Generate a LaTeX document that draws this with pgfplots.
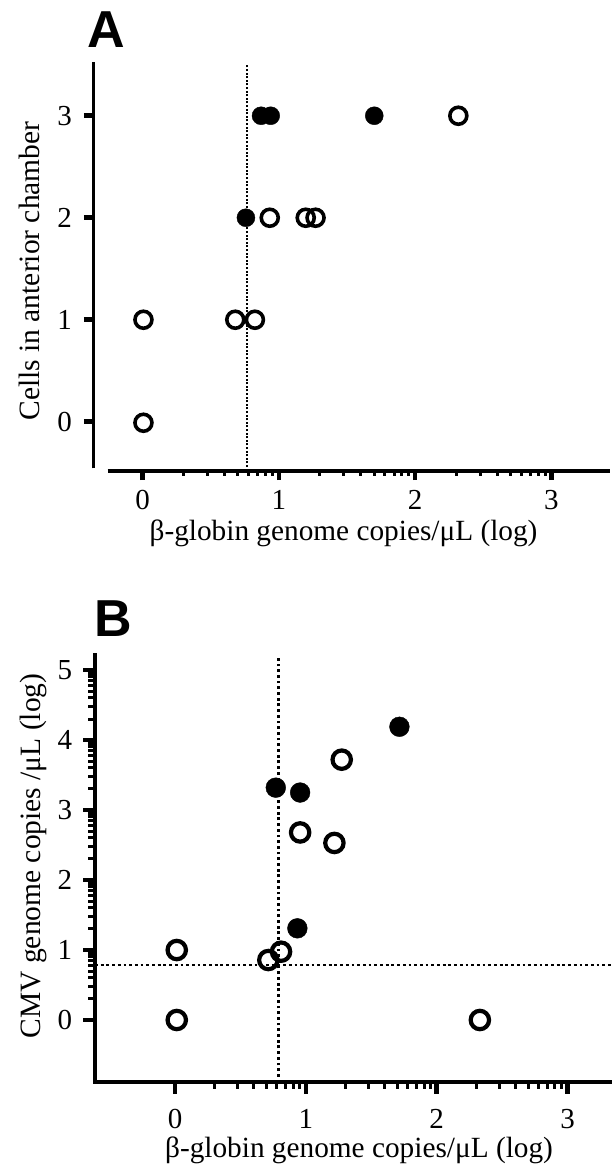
\documentclass[border=0pt]{standalone}
\usepackage{fontspec}
\setmainfont{Liberation Serif}
\newfontfamily\hv{Liberation Sans}
\usepackage{pgfplots}
\pgfplotsset{compat=1.18}
\pgfplotsset{
  prism/.style={
    scale only axis, clip=false,
    axis line style={draw=none},
    tick pos=left, tick align=outside,
    /pgf/number format/assume math mode=true,
    tick label style={font=\fontsize{29}{29}\selectfont, inner sep=0pt},
    xticklabel style={anchor=base},
    yticklabel style={anchor=east},
    major tick style={black},
    minor tick style={black},
  },
  openmk/.style={only marks, mark=o, mark size=8.5pt, mark options={line width=3.6pt, black}},
  fullmk/.style={only marks, mark=*, mark size=9pt, mark options={draw=none, fill=black}},
}
\begin{document}
\begin{tikzpicture}
% ---------------- Panel A ----------------
\begin{axis}[prism,
  at={(93.3pt,694.3pt)}, anchor=south west,
  width=516.7pt, height=409pt,
  xmin=-0.362, xmax=3.43, ymin=-0.48, ymax=3.53,
  xtick={0,1,2,3}, ytick={0,1,2,3},
  minor xtick={0.30103,0.47712,0.60206,0.69897,0.77815,0.84510,0.90309,0.95424,
               1.30103,1.47712,1.60206,1.69897,1.77815,1.84510,1.90309,1.95424,
               2.30103,2.47712,2.60206,2.69897,2.77815,2.84510,2.90309,2.95424},
  major tick length=9.5pt, minor tick length=5pt,
  every major tick/.append style={line width=4.5pt},
  every minor tick/.append style={line width=3pt},
  xticklabel style={yshift=-29.8pt},
  yticklabel style={xshift=-11.8pt},
]
\draw[line width=2.6pt, dash pattern=on 2pt off 1.6pt] (axis cs:0.767,-0.48) -- (axis cs:0.767,3.50);
\draw[line width=4pt] (axis cs:-0.257,-0.48) -- (axis cs:3.43,-0.48);
\draw[line width=3.4pt] (axis cs:-0.362,-0.457) -- (axis cs:-0.362,3.53);
\addplot[fullmk] coordinates {(0.869,3) (0.94,3) (1.70,3) (0.758,2)};
\addplot[openmk] coordinates {(2.317,3) (0.933,2) (1.197,2) (1.269,2) (0.006,1) (0.68,1) (0.824,1) (0.006,-0.01)};
\end{axis}
\node[anchor=base, inner sep=0pt, font=\fontsize{29.3}{29.3}\selectfont] at (343.5pt,624pt) {β-globin genome copies/μL (log)};
\node[rotate=90, anchor=base, inner sep=0pt, font=\fontsize{29.5}{29.5}\selectfont] at (39.3pt,894pt) {Cells in anterior chamber};
\node[anchor=base west, inner sep=0pt, font=\hv\bfseries\fontsize{52}{52}\selectfont] at (87.5pt,1117pt) {A};
% ---------------- Panel B ----------------
\begin{axis}[prism,
  at={(95pt,82.5pt)}, anchor=south west,
  width=517pt, height=429.2pt,
  xmin=-0.612, xmax=3.34, ymin=-0.893, ymax=5.24,
  xtick={0,1,2,3}, ytick={0,1,2,3,4,5},
  minor xtick={0.30103,0.47712,0.60206,0.69897,0.77815,0.84510,0.90309,0.95424,
               1.30103,1.47712,1.60206,1.69897,1.77815,1.84510,1.90309,1.95424,
               2.30103,2.47712,2.60206,2.69897,2.77815,2.84510,2.90309,2.95424},
  minor ytick={0.30103,0.47712,0.60206,0.69897,0.77815,0.84510,0.90309,0.95424,
               1.30103,1.47712,1.60206,1.69897,1.77815,1.84510,1.90309,1.95424,
               2.30103,2.47712,2.60206,2.69897,2.77815,2.84510,2.90309,2.95424,
               3.30103,3.47712,3.60206,3.69897,3.77815,3.84510,3.90309,3.95424,
               4.30103,4.47712,4.60206,4.69897,4.77815,4.84510,4.90309,4.95424},
  major tick length=11.5pt, minor tick length=6.5pt,
  every major tick/.append style={line width=4.5pt},
  every minor tick/.append style={line width=3pt},
  xticklabel style={yshift=-34.3pt},
  yticklabel style={xshift=-11.2pt},
  openmk/.append style={mark size=9.2pt, mark options={line width=4.2pt}},
  fullmk/.append style={mark size=9.9pt},
]
\draw[line width=2.8pt, dash pattern=on 2.8pt off 2.9pt] (axis cs:0.79,-0.893) -- (axis cs:0.79,5.18);
\draw[line width=2.8pt, dash pattern=on 2.8pt off 2.9pt] (axis cs:-0.612,0.786) -- (axis cs:3.34,0.786);
\draw[line width=4pt] (axis cs:-0.612,5.24) -- (axis cs:-0.612,-0.893) -- (axis cs:3.34,-0.893);
\addplot[fullmk] coordinates {(1.715,4.19) (0.77,3.32) (0.956,3.25) (0.935,1.31)};
\addplot[openmk] coordinates {(1.274,3.72) (0.956,2.68) (1.218,2.53) (0.81,0.976) (0.713,0.857) (0.013,1.0) (0.013,0) (2.33,0)};
\end{axis}
\node[anchor=base, inner sep=0pt, font=\fontsize{29.3}{29.3}\selectfont] at (359pt,8pt) {β-globin genome copies/μL (log)};
\node[rotate=90, anchor=base, inner sep=0pt, font=\fontsize{29.5}{29.5}\selectfont] at (40.5pt,309pt) {CMV genome copies /μL (log)};
\node[anchor=base west, inner sep=0pt, font=\hv\bfseries\fontsize{52}{52}\selectfont] at (94pt,528pt) {B};
\pgfresetboundingbox
\useasboundingbox (0pt,0pt) rectangle (612pt,1165pt);
\end{tikzpicture}
\end{document}
